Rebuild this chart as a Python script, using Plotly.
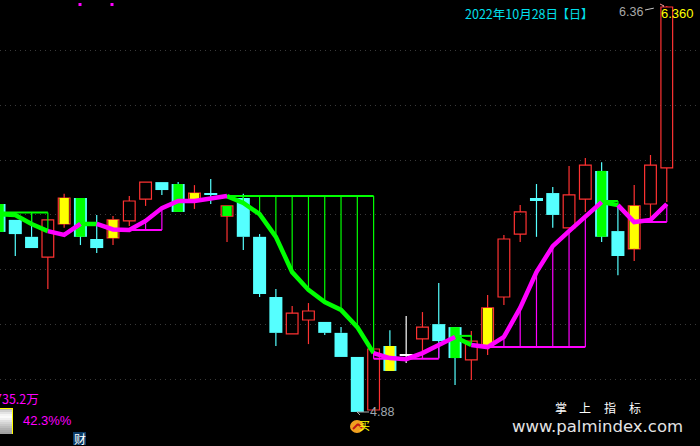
import plotly.graph_objects as go

# Daily candles (price values)
opens = [5.538,5.530,5.479,5.446,5.567,5.520,5.479,5.516,5.578,5.658,5.691,5.611,5.658,5.673,5.596,5.662,5.520,5.169,5.165,5.216,5.209,5.169,5.081,4.887,5.121,5.088,5.147,5.139,5.077,5.070,5.117,5.300,5.530,5.662,5.600,5.553,5.658,5.761,5.541,5.476,5.640,5.772]
closes = [5.640,5.582,5.520,5.582,5.662,5.662,5.512,5.582,5.651,5.720,5.720,5.713,5.680,5.680,5.633,5.520,5.311,5.300,5.241,5.249,5.169,5.081,4.880,5.110,5.030,5.091,5.190,5.201,5.190,5.139,5.260,5.512,5.611,5.651,5.680,5.673,5.782,5.520,5.450,5.633,5.782,6.360]
highs = [5.640,5.582,5.607,5.582,5.677,5.662,5.600,5.596,5.669,5.720,5.720,5.720,5.709,5.731,5.633,5.677,5.530,5.329,5.267,5.278,5.209,5.190,4.880,5.110,5.179,5.231,5.245,5.351,5.190,5.176,5.307,5.527,5.636,5.713,5.702,5.779,5.808,5.793,5.629,5.709,5.819,6.364]
lows = [5.538,5.450,5.479,5.329,5.553,5.490,5.461,5.490,5.560,5.633,5.673,5.611,5.622,5.640,5.501,5.472,5.300,5.121,5.165,5.128,5.161,5.081,4.880,4.887,5.030,5.059,5.077,5.077,4.978,4.997,5.088,5.271,5.501,5.520,5.553,5.553,5.611,5.501,5.380,5.432,5.589,5.647]
kinds = ["cyan","cyan","cyan","red","red","cyan","cyan","red","red","red","cyan","cyan","red","cyan","red","cyan","cyan","cyan","red","red","cyan","cyan","cyan","red","cyan","white","red","cyan","cyan","red","red","red","red","cyan","cyan","red","red","cyan","cyan","red","red","red"]
inners = ["green",None,None,None,"yellow","green",None,"yellow",None,None,None,"green","yellow",None,"green",None,None,None,None,None,None,None,None,None,"yellow",None,None,None,"green",None,"yellow",None,None,None,None,None,None,"green",None,"yellow",None,None]

# Thick signal line and its colour runs
line_vals = [5.603,5.600,5.567,5.541,5.527,5.567,5.567,5.547,5.545,5.578,5.625,5.651,5.651,5.658,5.669,5.644,5.603,5.520,5.391,5.326,5.282,5.253,5.190,5.095,5.077,5.073,5.095,5.125,5.154,5.125,5.117,5.154,5.260,5.391,5.486,5.541,5.592,5.647,5.636,5.574,5.582,5.640]
runs_green = [(0,3),(5,6),(14,23),(28,29),(37,38)]
runs_magenta = [(3,5),(6,14),(23,28),(29,37),(38,41)]
# Wave boxes: first index, last index, level
boxes_green = [(0,3,5.609),(14,23,5.669),(28,29,5.158),(37,38,5.651)]
boxes_magenta = [(8,10,5.545),(23,27,5.074),(30,36,5.117),(39,41,5.574)]
grid_prices = [6.2,6.0,5.8,5.6,5.4,5.2,5.0]
hi_price, lo_price = 6.36, 4.88

CYAN, RED, GREEN, MAG, YEL = "#55ffff", "#ff3232", "#00ff00", "#ff00ff", "#ffff00"
idx = list(range(len(opens)))
fig = go.Figure()

def wick_trace(kind, colour):
    xs, ys = [], []
    for i in idx:
        if kinds[i] != kind:
            continue
        top, bot = max(opens[i], closes[i]), min(opens[i], closes[i])
        if highs[i] > top:
            xs += [i, i, None]; ys += [top, highs[i], None]
        if lows[i] < bot:
            xs += [i, i, None]; ys += [bot, lows[i], None]
    fig.add_trace(go.Scatter(x=xs, y=ys, mode="lines", line=dict(color=colour, width=1.2), showlegend=False, hoverinfo="skip"))

for kind, colour in (("cyan", CYAN), ("red", RED), ("white", "#ffffff")):
    wick_trace(kind, colour)

def body_trace(sel, fill, edge, width):
    fig.add_trace(go.Bar(
        x=sel,
        y=[abs(closes[i] - opens[i]) for i in sel],
        base=[min(opens[i], closes[i]) for i in sel],
        width=width,
        marker=dict(color=fill, line=dict(color=edge, width=1.2 if edge != fill else 0)),
        showlegend=False, hoverinfo="skip"))

body_trace([i for i in idx if kinds[i] == "cyan"], CYAN, CYAN, 0.8)
body_trace([i for i in idx if kinds[i] == "white"], "#ffffff", "#ffffff", 0.8)
body_trace([i for i in idx if kinds[i] == "red"], "rgba(0,0,0,0)", RED, 0.72)
body_trace([i for i in idx if inners[i] == "yellow"], YEL, YEL, 0.58)
body_trace([i for i in idx if inners[i] == "green"], GREEN, GREEN, 0.58)

def box_trace(boxes, colour):
    hx, hy, vx, vy = [], [], [], []
    for a, b, lvl in boxes:
        hx += [a, b, None]; hy += [lvl, lvl, None]
        for k in range(a, b + 1):
            vx += [k, k, None]; vy += [lvl, line_vals[k], None]
    fig.add_trace(go.Scatter(x=vx, y=vy, mode="lines", line=dict(color=colour, width=1.2), showlegend=False, hoverinfo="skip"))
    fig.add_trace(go.Scatter(x=hx, y=hy, mode="lines", line=dict(color=colour, width=2), showlegend=False, hoverinfo="skip"))

box_trace(boxes_green, GREEN)
box_trace(boxes_magenta, MAG)

def run_trace(runs, colour):
    xs, ys = [], []
    for a, b in runs:
        for k in range(a, b + 1):
            xs.append(k); ys.append(line_vals[k])
        xs.append(None); ys.append(None)
    fig.add_trace(go.Scatter(x=xs, y=ys, mode="lines", line=dict(color=colour, width=4.5), showlegend=False, hoverinfo="skip"))

run_trace(runs_green, GREEN)
run_trace(runs_magenta, MAG)

def px(x, y, text, colour, size, anchor="left", family="Liberation Sans", **kw):
    fig.add_annotation(xref="paper", yref="paper", x=x / 700, y=1 - y / 446, text=text, showarrow=False,
                       xanchor=anchor, yanchor="middle", font=dict(color=colour, size=size, family=family),
                       borderpad=0, borderwidth=0, **kw)

CJK = "Noto Sans CJK SC"
px(465, 14, "2022年10月28日", "#00e0ee", 12.5, family=CJK)
px(557, 14, "【日】", "#00e0ee", 12, family=CJK)
px(619, 12, f"{hi_price:.2f}", "#a8a8a8", 12.5)
px(694, 14, f"{hi_price:.3f}", "#ffff00", 13, anchor="right")
px(370, 412, f"{lo_price:.2f}", "#a0a8b0", 12.5)
px(39, 398, "735.2万", MAG, 12.5, anchor="right", family=CJK)
px(23, 420, "42.3%%", MAG, 13)
for xp, ch in zip([561, 585, 610, 635], ["掌", "上", "指", "标"]):
    px(xp, 407, ch, "#ffffff", 12, anchor="center", family=CJK)
px(597, 426, "www.palmindex.com", "#e4e4e4", 16.5, anchor="center", family="DejaVu Sans")

shapes = []
def rect(x0, y0, x1, y1, fill, line=None, lw=0, kind="rect"):
    shapes.append(dict(type=kind, xref="paper", yref="paper", x0=x0 / 700, x1=x1 / 700, y0=1 - y0 / 446, y1=1 - y1 / 446,
                       fillcolor=fill, line=dict(color=line or fill, width=lw), layer="above"))
# value gauge
steps = ["#b8b8b8", "#d0d0d0", "#e4e4e4", "#f4f4f4", "#fafafa", "#f0f0f0", "#e0e0e0", "#d4d4d4", "#c8c8c8", "#bcbcbc", "#b0b0b0", "#a8a8a8", "#a0a0a0"]
for n, c in enumerate(steps):
    rect(0, 408 + n * 2, 12, 410 + n * 2, c)
rect(0, 408, 13, 409, YEL)
rect(12, 408, 13, 434, YEL)
# tag
rect(73, 432, 86, 445, "#0a3a66")
px(79.5, 438.5, "财", "#ffffff", 12, anchor="center", family=CJK)
# top markers
rect(78.5, 3, 81.5, 6, MAG)
rect(110.5, 3, 113.5, 6, MAG)
# buy badge
rect(350, 420, 364, 433, "#f0a020", kind="circle")
shapes.append(dict(type="line", xref="paper", yref="paper", x0=353 / 700, x1=358 / 700, y0=1 - 429 / 446, y1=1 - 424 / 446,
                   line=dict(color="#c01818", width=2), layer="above"))
shapes.append(dict(type="line", xref="paper", yref="paper", x0=358 / 700, x1=362 / 700, y0=1 - 424 / 446, y1=1 - 428 / 446,
                   line=dict(color="#c01818", width=2), layer="above"))
px(359, 425, "买", "#ffff00", 11, family=CJK)
# price pointers
shapes.append(dict(type="line", xref="paper", yref="paper", x0=645 / 700, x1=664 / 700, y0=1 - 10 / 446, y1=1 - 6 / 446,
                   line=dict(color="#c8c8c8", width=1, dash="dash"), layer="above"))
shapes.append(dict(type="line", xref="paper", yref="paper", x0=660 / 700, x1=664 / 700, y0=1 - 4 / 446, y1=1 - 6 / 446,
                   line=dict(color="#ff9090", width=1), layer="above"))
shapes.append(dict(type="line", xref="paper", yref="paper", x0=357 / 700, x1=369 / 700, y0=1 - 412 / 446, y1=1 - 412 / 446,
                   line=dict(color="#a8a8a8", width=1), layer="above"))
shapes.append(dict(type="line", xref="paper", yref="paper", x0=357 / 700, x1=360 / 700, y0=1 - 412 / 446, y1=1 - 415 / 446,
                   line=dict(color="#a8a8a8", width=1), layer="above"))

fig.update_layout(
    width=700, height=446, margin=dict(l=0, r=0, t=0, b=0), autosize=False,
    paper_bgcolor="#000000", plot_bgcolor="#000000", barmode="overlay", showlegend=False, shapes=shapes,
    xaxis=dict(range=[0.0614, 43.04], visible=False, fixedrange=True),
    yaxis=dict(range=[4.7555, 6.3856], tickvals=grid_prices, showticklabels=False, ticks="", zeroline=False,
               showgrid=True, gridcolor="#3a3a3a", griddash="1px 4px", gridwidth=1, fixedrange=True),
)
fig.write_html("out.html", config=dict(displayModeBar=False),
               post_script="document.body.style.margin='0';document.body.style.background='#000';document.body.style.overflow='hidden';")
